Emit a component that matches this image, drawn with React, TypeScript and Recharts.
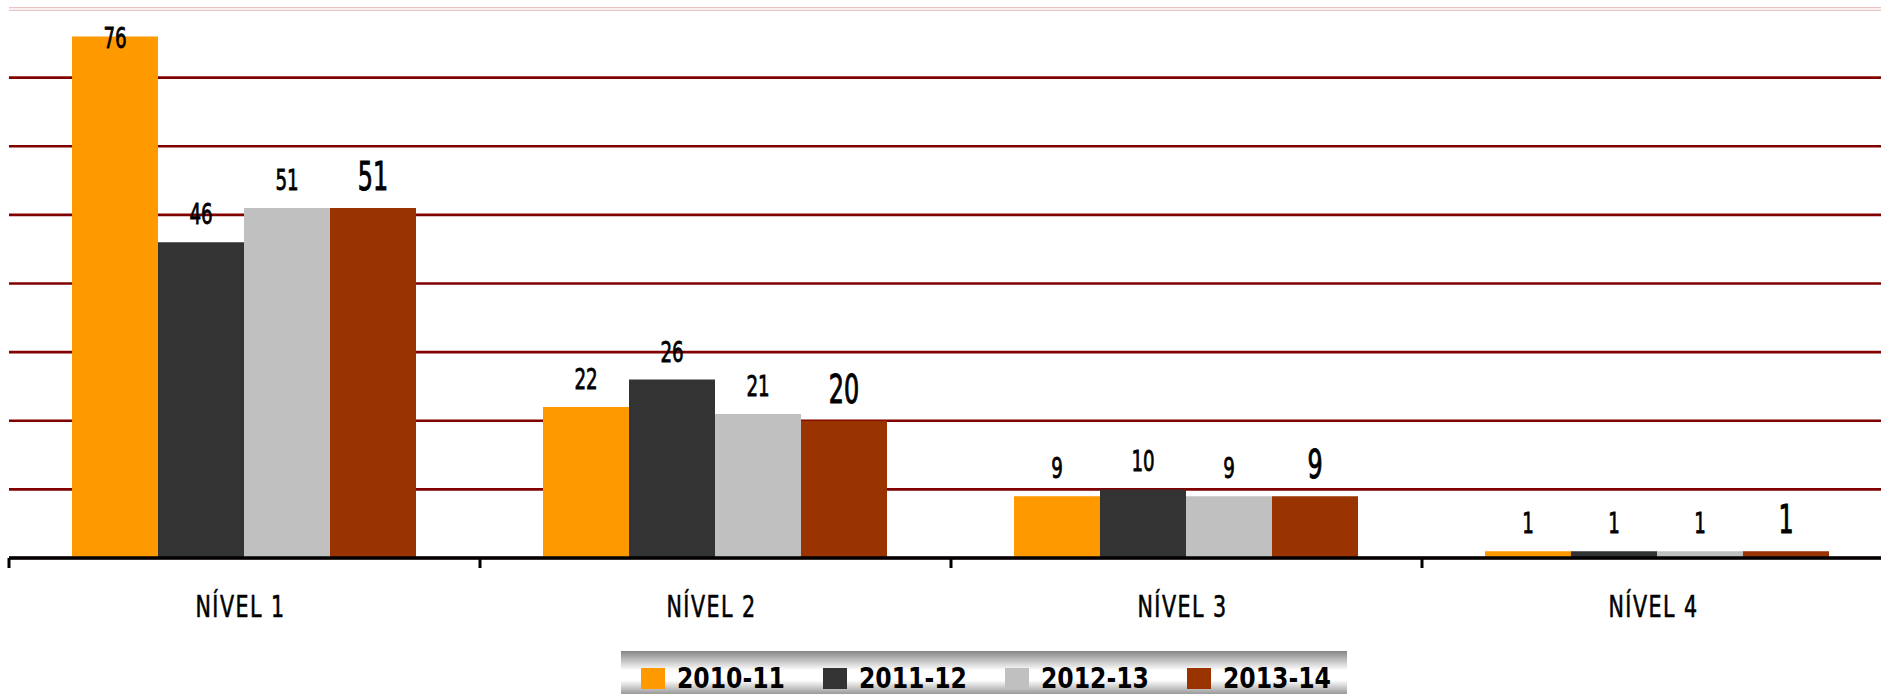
import { BarChart, Bar, XAxis, YAxis, CartesianGrid, ReferenceLine, LabelList } from 'recharts';

const categories = ['NÍVEL 1', 'NÍVEL 2', 'NÍVEL 3', 'NÍVEL 4'];
const seasons = ['2010-11', '2011-12', '2012-13', '2013-14'];
const s2010 = [76, 22, 9, 1];
const s2011 = [46, 26, 10, 1];
const s2012 = [51, 21, 9, 1];
const s2013 = [51, 20, 9, 1];
const gridTicks = [0, 10, 20, 30, 40, 50, 60, 70];

const COLORS = ['#FF9900', '#333333', '#C0C0C0', '#993300'];
// no narrow font available, so the condensed DejaVu gets squeezed a bit more
const FONT = "'DejaVu Sans Condensed', 'DejaVu Sans', sans-serif";

const W = 1893; // a bit wider than the page, the last band runs off the right edge
const H = 694;
const LEFT = 9;
const TOP = 9;
const AXIS_H = 136;
const BAND = (W - LEFT) / categories.length;

const data = categories.map((name, i) => ({
  name,
  s0: s2010[i],
  s1: s2011[i],
  s2: s2012[i],
  s3: s2013[i],
}));
const series = [s2010, s2011, s2012, s2013];

const makeLabel = (big: boolean) => (props: any) => {
  const { x, y, width, value } = props;
  const cx = Number(x) + Number(width) / 2;
  const size = big ? 39 : 29;
  let base = Number(y) - 18;
  // no room above the bar -> put it inside, like excel does
  if (base - size * 0.75 < TOP) base = Number(y) + 12;
  return (
    <text
      transform={`translate(${cx},${base}) scale(${big ? 0.68 : 0.7},1)`}
      textAnchor="middle"
      fontFamily={FONT}
      fontSize={size}
      fill="#000"
      stroke="#000"
      strokeWidth={big ? 1 : 0.8}
    >
      {value}
    </text>
  );
};

const CategoryTick = (props: any) => {
  const { x, y, payload, index } = props;
  const left = x - BAND / 2;
  return (
    <g>
      <line x1={left} x2={left} y1={y} y2={y + 10} stroke="#000" strokeWidth={3} />
      {index === categories.length - 1 && (
        <line x1={x + BAND / 2} x2={x + BAND / 2} y1={y} y2={y + 10} stroke="#000" strokeWidth={3} />
      )}
      <text
        transform={`translate(${x - 4},${y + 59}) scale(0.74,1)`}
        textAnchor="middle"
        fontFamily={FONT}
        fontSize={31}
        letterSpacing={2}
        fill="#000"
        stroke="#000"
        strokeWidth={0.6}
      >
        {payload.value}
      </text>
    </g>
  );
};

function LegendBox() {
  return (
    <svg width={726} height={43} style={{ position: 'absolute', left: 621, top: 651 }}>
      <defs>
        <linearGradient id="lgBg" x1="0" y1="0" x2="0" y2="1">
          <stop offset="0%" stopColor="#858585" />
          <stop offset="45%" stopColor="#ffffff" />
          <stop offset="68%" stopColor="#ffffff" />
          <stop offset="100%" stopColor="#999999" />
        </linearGradient>
      </defs>
      <rect x={0} y={0} width={726} height={43} fill="url(#lgBg)" />
      {seasons.map((s, i) => (
        <g key={s}>
          <rect x={20 + i * 182} y={17} width={24} height={21} fill={COLORS[i]} />
          <text
            x={56 + i * 182}
            y={37}
            fontFamily={FONT}
            fontWeight="bold"
            fontSize={27.5}
            textLength={108}
            lengthAdjust="spacingAndGlyphs"
            fill="#000"
          >
            {s}
          </text>
        </g>
      ))}
    </svg>
  );
}

export default function App() {
  return (
    <div style={{ position: 'relative', width: 1881, height: H, overflow: 'hidden', background: '#fff' }}>
      <style>{'body{margin:0}'}</style>
      <BarChart
        width={W}
        height={H}
        data={data}
        margin={{ top: TOP, right: 0, left: LEFT, bottom: 0 }}
        barCategoryGap={63}
        barGap={0}
      >
        <CartesianGrid vertical={false} stroke="#800000" strokeWidth={2.7} />
        <ReferenceLine y={80} stroke="#E8C4C4" strokeWidth={4} />
        <ReferenceLine y={80} stroke="#ffffff" strokeWidth={1.5} />
        <YAxis hide domain={[0, 80]} ticks={gridTicks} />
        <XAxis
          dataKey="name"
          height={AXIS_H}
          interval={0}
          tickLine={false}
          tickSize={0}
          tickMargin={0}
          axisLine={{ stroke: '#000', strokeWidth: 3.5 }}
          tick={<CategoryTick />}
        />
        {series.map((_, i) => (
          <Bar key={i} dataKey={`s${i}`} name={seasons[i]} fill={COLORS[i]} isAnimationActive={false}>
            <LabelList dataKey={`s${i}`} content={makeLabel(i === 3)} />
          </Bar>
        ))}
      </BarChart>
      <LegendBox />
    </div>
  );
}
